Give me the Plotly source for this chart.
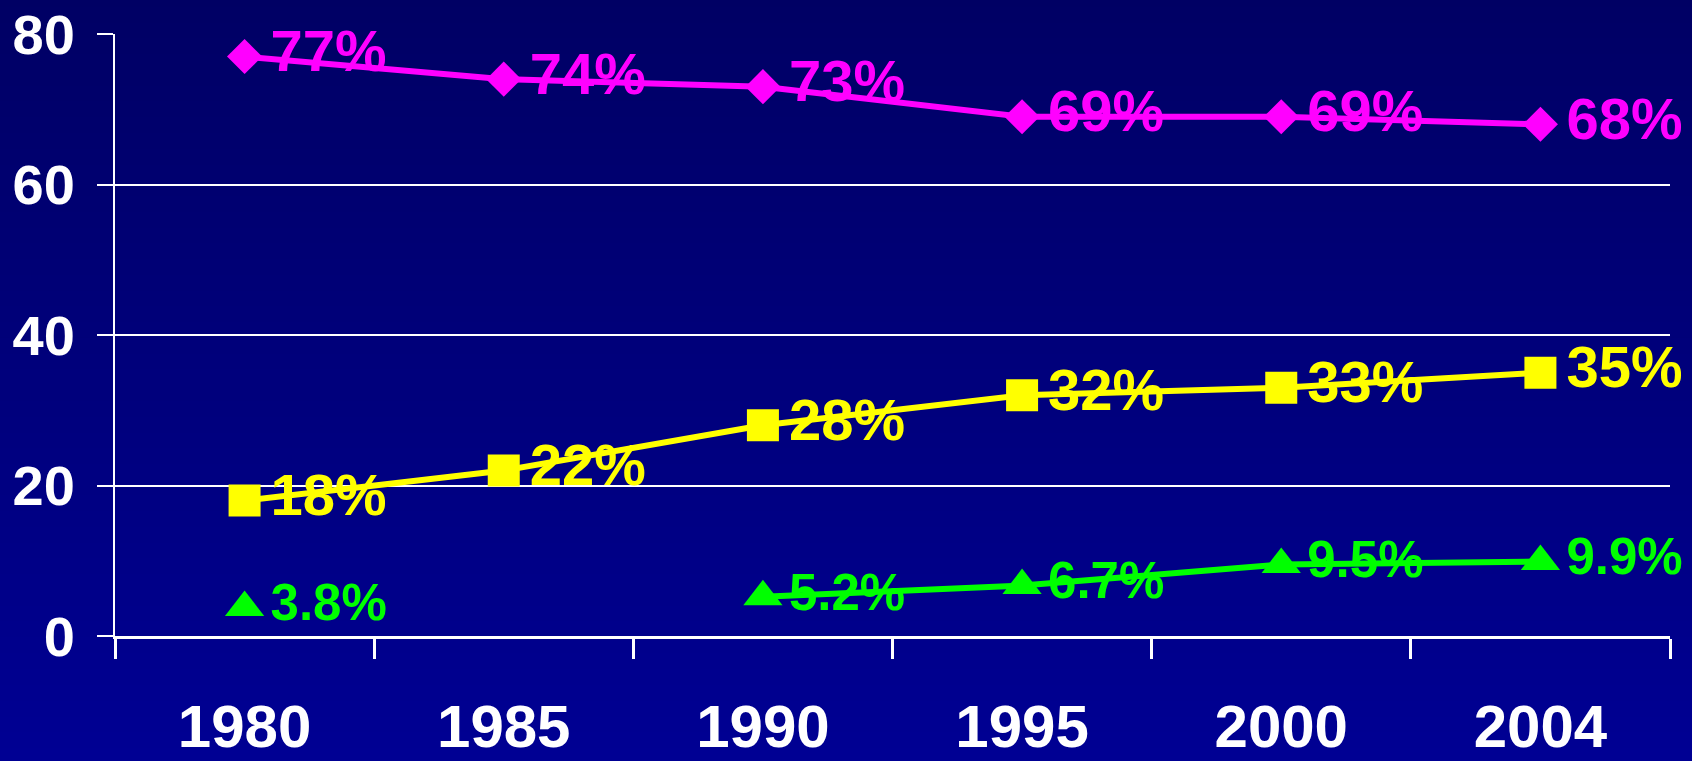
import plotly.graph_objects as go

years = ["1980", "1985", "1990", "1995", "2000", "2004"]
magenta_vals = [77, 74, 73, 69, 69, 68]
yellow_vals = [18, 22, 28, 32, 33, 35]
green_vals = [3.8, None, 5.2, 6.7, 9.5, 9.9]
magenta_text = ["77%", "74%", "73%", "69%", "69%", "68%"]
yellow_text = ["18%", "22%", "28%", "32%", "33%", "35%"]
green_text = ["3.8%", "", "5.2%", "6.7%", "9.5%", "9.9%"]
y_ticks = [0, 20, 40, 60, 80]

FONT = "Liberation Sans, Arial, sans-serif"
MAG = "#FF00FF"
YEL = "#FFFF00"
GRN = "#00FF00"

fig = go.Figure()

series = [
    (magenta_vals, magenta_text, MAG, "diamond", 27, 58),
    (yellow_vals, yellow_text, YEL, "square", 32, 58),
    (green_vals, green_text, GRN, "triangle-up", 34, 51),
]
# lines + markers
for vals, texts, col, sym, msize, fsize in series:
    fig.add_trace(go.Scatter(
        x=years, y=vals, mode="lines+markers",
        line=dict(color=col, width=6),
        marker=dict(symbol=sym, size=msize, color=col, line=dict(width=0)),
        connectgaps=False, showlegend=False, hoverinfo="skip",
    ))
# value labels (invisible spacer markers control the offset)
for vals, texts, col, sym, msize, fsize in series:
    fig.add_trace(go.Scatter(
        x=years, y=vals, mode="markers+text",
        text=["<b>%s</b>" % t if t else "" for t in texts],
        textposition="middle right",
        textfont=dict(family=FONT, size=fsize, color=col),
        marker=dict(size=40, color="rgba(0,0,0,0)", line=dict(width=0)),
        showlegend=False, hoverinfo="skip", cliponaxis=False,
    ))

# vertical gradient background
n = 50
top = (0, 0, 100)
bot = (0, 0, 148)
y0, y1 = -0.24, 1.07
for i in range(n):
    f = i / (n - 1)
    c = tuple(int(round(top[k] + (bot[k] - top[k]) * f)) for k in range(3))
    ya = y1 - (y1 - y0) * i / n
    yb = y1 - (y1 - y0) * (i + 1) / n
    if i == n - 1:
        yb = -0.6
    if i == 0:
        ya = 1.5
    fig.add_shape(type="rect", xref="paper", yref="paper",
                  x0=-0.3, x1=1.3, y0=yb - 0.002, y1=ya + 0.002,
                  fillcolor="rgb(%d,%d,%d)" % c, line=dict(width=0), layer="below")

fig.update_layout(
    width=1692, height=761,
    margin=dict(l=115, r=22, t=34, b=125),
    paper_bgcolor="rgb(0,0,120)",
    plot_bgcolor="rgba(0,0,0,0)",
    font=dict(family=FONT, color="white"),
    xaxis=dict(
        type="category", tickson="boundaries", ticks="outside", ticklen=20,
        tickwidth=3, tickcolor="white", showline=True, linecolor="white",
        linewidth=3, showgrid=False, zeroline=False, automargin=False,
        tickvals=years, ticktext=["<b>%s</b>" % y for y in years],
        tickfont=dict(family=FONT, size=60, color="white"),
        ticklabelstandoff=36, range=[-0.5, 5.5],
    ),
    yaxis=dict(
        range=[0, 80], tickvals=y_ticks, ticktext=["<b>%d</b>" % v for v in y_ticks],
        showgrid=True, gridcolor="white", gridwidth=2,
        showline=True, linecolor="white", linewidth=2,
        ticks="outside", ticklen=16, tickwidth=2, tickcolor="white",
        zeroline=False, automargin=False,
        tickfont=dict(family=FONT, size=56, color="white"),
        ticklabelstandoff=11,
    ),
)

fig.write_html("out.html", config={"displayModeBar": False},
               post_script="document.body.style.margin='0px';")
